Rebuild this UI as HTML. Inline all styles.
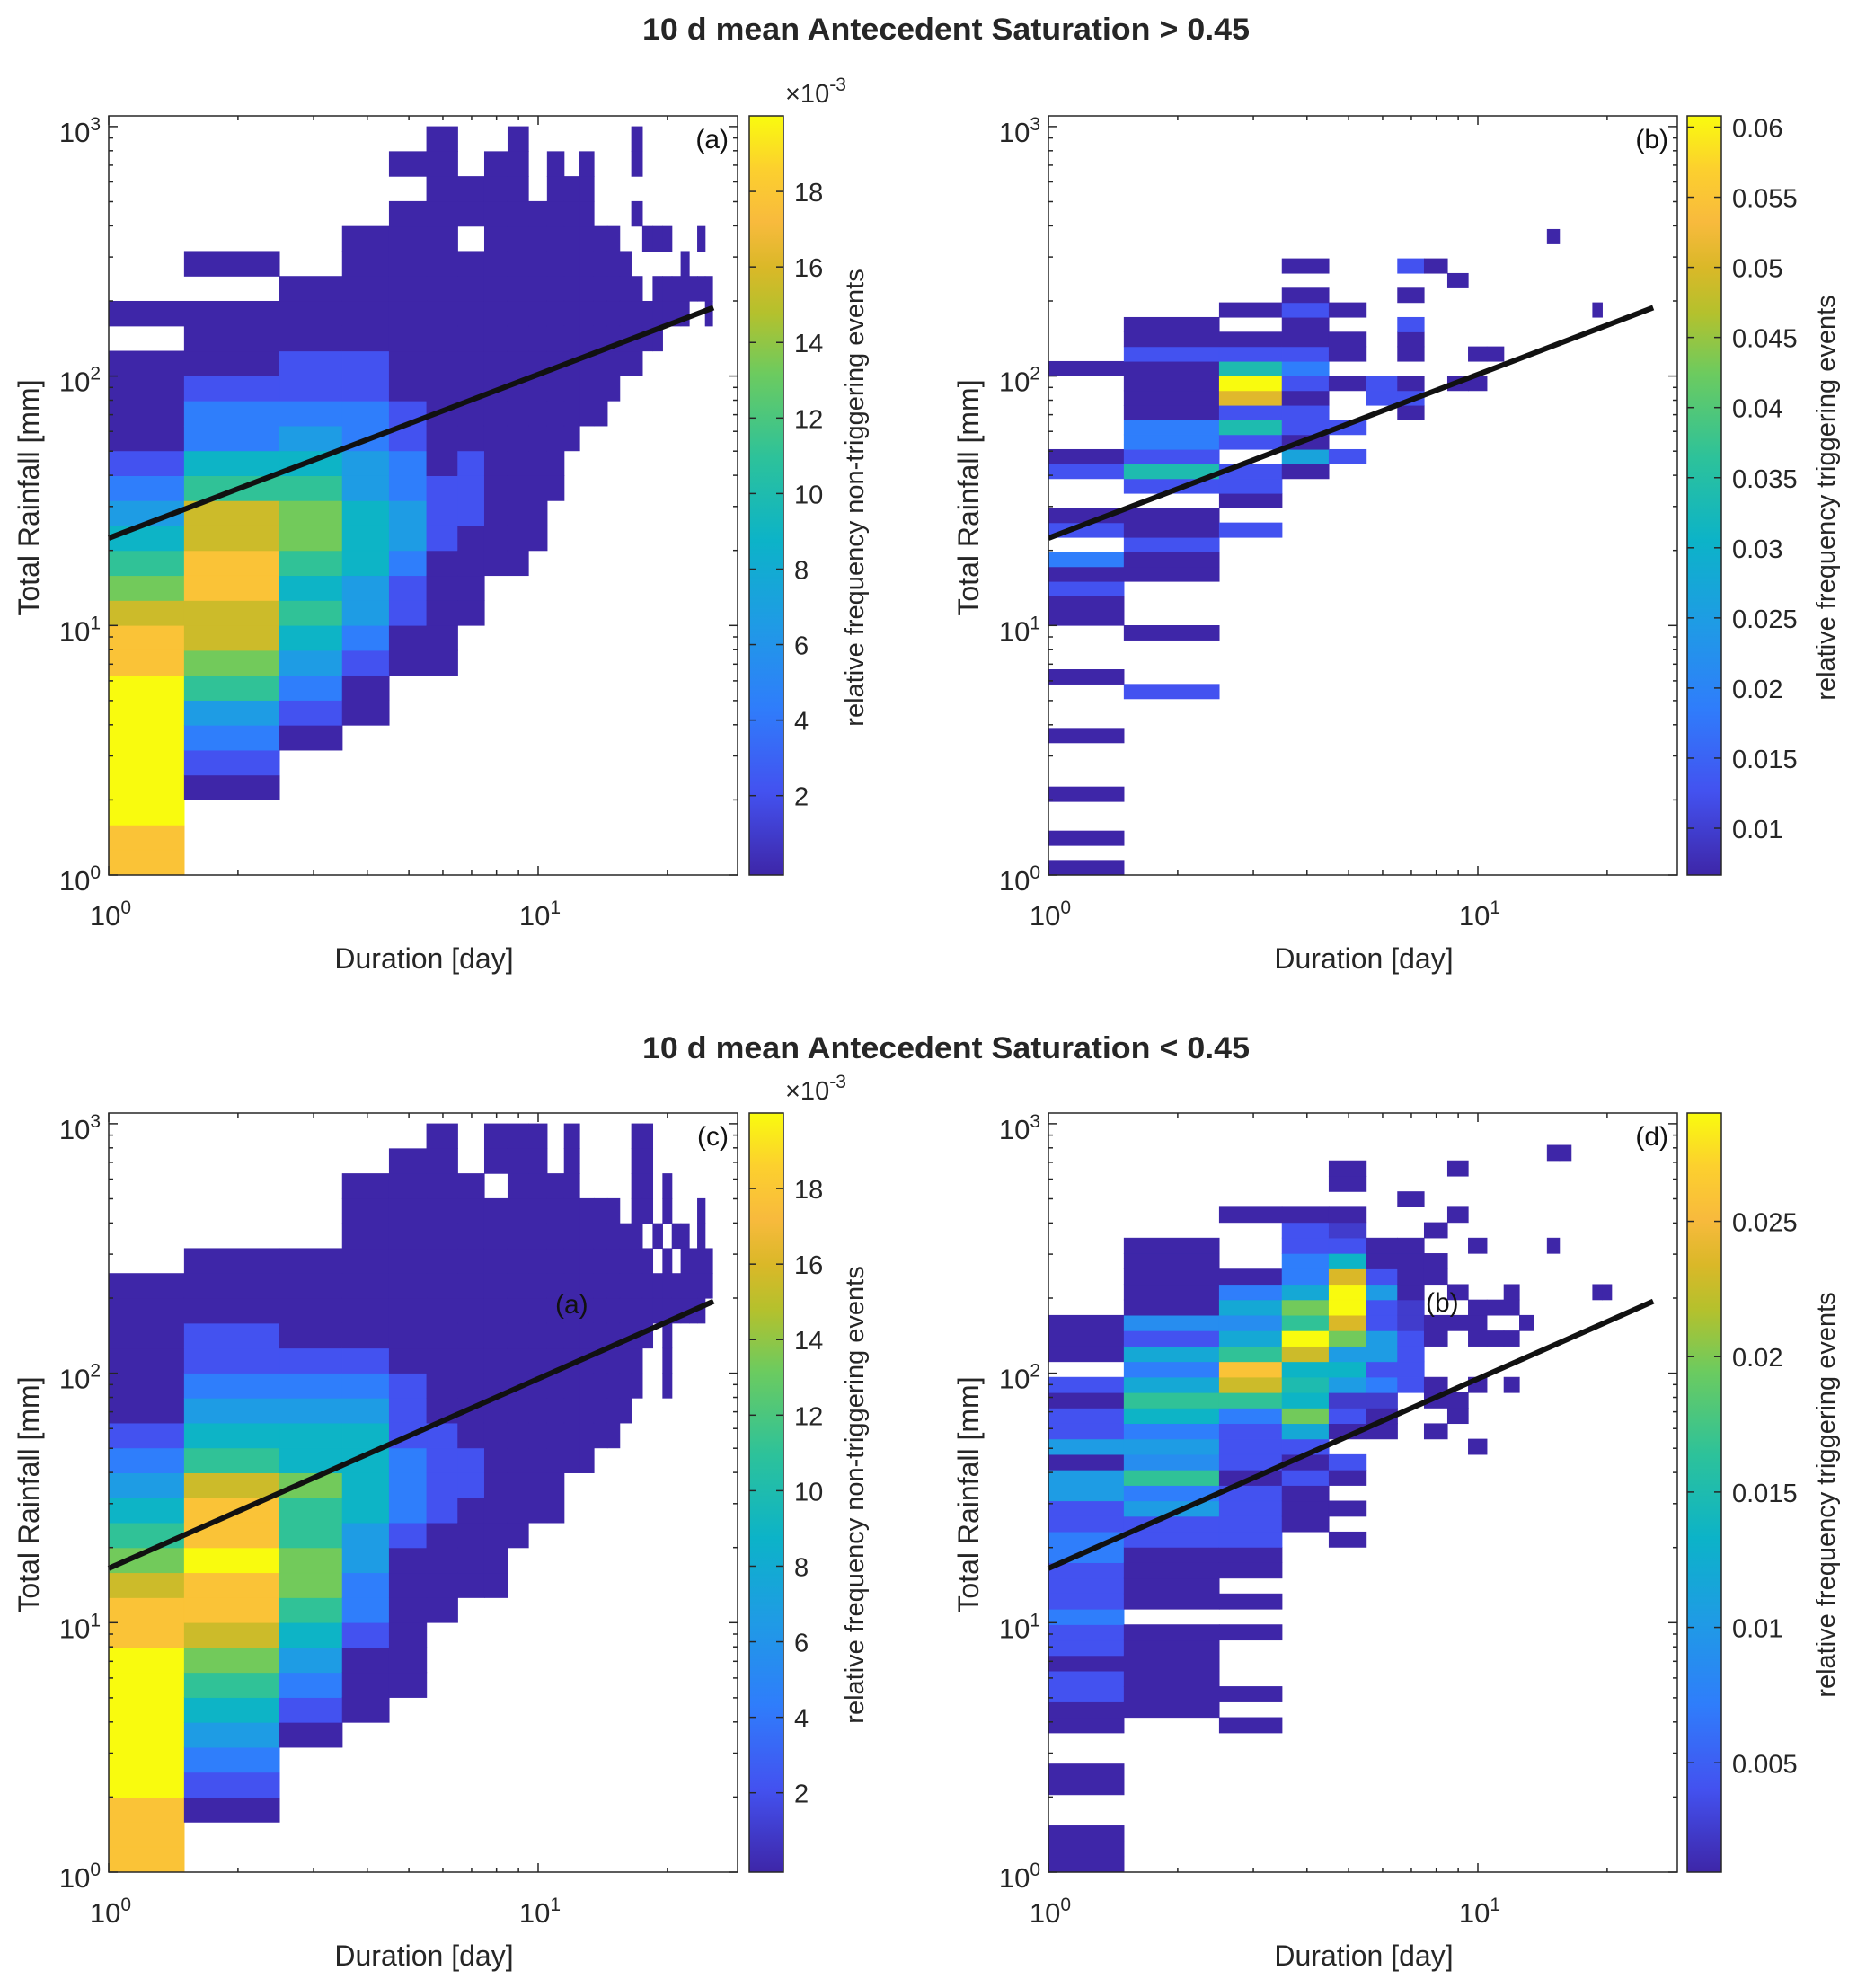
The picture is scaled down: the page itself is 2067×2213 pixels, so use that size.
<!DOCTYPE html>
<html><head><meta charset="utf-8">
<style>
html,body{margin:0;padding:0;background:#fff;}
svg{display:block;font-family:"Liberation Sans",Arial,sans-serif;}
</style></head>
<body>
<svg id="fig" width="2067" height="2213" viewBox="0 0 2067 2213" xmlns="http://www.w3.org/2000/svg">
<defs>
<linearGradient id="parula" x1="0" y1="1" x2="0" y2="0">
<stop offset="0" stop-color="#3e26a8"/><stop offset="0.11" stop-color="#4352f0"/><stop offset="0.22" stop-color="#2f7dfb"/><stop offset="0.33" stop-color="#1f9be5"/><stop offset="0.44" stop-color="#0cb3c8"/><stop offset="0.55" stop-color="#2dc29a"/><stop offset="0.66" stop-color="#6ccb5f"/><stop offset="0.74" stop-color="#b4c12d"/><stop offset="0.8" stop-color="#dab828"/><stop offset="0.86" stop-color="#f8ba3d"/><stop offset="0.93" stop-color="#fcd02e"/><stop offset="1" stop-color="#f9fb0e"/>
</linearGradient>
</defs>
<text x="1053" y="44" text-anchor="middle" font-size="34" font-weight="bold" fill="#262626" textLength="676" lengthAdjust="spacingAndGlyphs">10 d mean Antecedent Saturation &gt; 0.45</text>
<text x="1053" y="1178" text-anchor="middle" font-size="34" font-weight="bold" fill="#262626" textLength="676" lengthAdjust="spacingAndGlyphs">10 d mean Antecedent Saturation &lt; 0.45</text>
<g id="plots"></g>
</svg>
<script>
// ---- data ----
const aCols = [
"99AAAAAA9987654321111.1.......",
"...12346788998865332111.1.....",
".....1234565677654322111......",
"......11234455544332211111....",
"........1122344332211111111.1.",
"........1111122211111111111111",
"..........111122211111111.11..",
"............11111111111111111.",
"............111111111111111111",
".............11111111111111...",
"...............11111111111111.",
".................11111111111..",
"..................11111111111.",
"..................11111111....",
"...................1111111....",
"....................11111.....",
"....................1111..1.11",
".....................11..1....",
".....................111.1....",
"......................11.1....",
"......................11......",
"......................111.....",
".......................1......",
".......................1.1....",
"......................11......"
];
const cCols = [
"999AAAAAA998765432111111......",
"..1234567899A998654322111.....",
".....12345677667554321111.....",
"......1112334455554321111111..",
".......1111112333222111111111.",
"..........11112222111111111111",
"...........11112211111111111..",
"...........1111111111111111.11",
".............11111111111111111",
"..............1111111111111111",
"..............11111111111111..",
"................11111111111111",
"................11111111111...",
".................1111111111...",
".................1111111111...",
"..................11111111....",
"...................11111111111",
".....................1111.1111",
"......................11.1....",
"...................111111.11..",
"......................11.1....",
"......................1111....",
"......................111.....",
"......................11111...",
".......................11....."
];
const bCells = [
[1,0,1],[1,2,1],[1,5,1],[1,9,1],[1,13,1],[1,17,1],[1,18,1],[1,19,2],[1,20,1],[1,21,3],[1,23,2],[1,24,1],[1,27,2],[1,28,1],[1,34,1],
[2,12,2],[2,16,1],[2,20,1],[2,21,1],[2,22,2],[2,23,1],[2,24,1],[2,26,2],[2,27,5.5],[2,28,2],[2,29,3],[2,30,3],[2,31,1],[2,32,1],[2,33,1],[2,34,1],[2,35,2],[2,36,1],[2,37,1],
[3,23,2],[3,25,1],[3,26,2],[3,27,2],[3,29,2],[3,30,5.5],[3,31,2],[3,32,8.3],[3,33,10],[3,34,5.5],[3,35,2],[3,36,1],[3,38,1],
[4,27,1],[4,28,4.3],[4,29,1],[4,30,2],[4,31,2],[4,32,1],[4,33,2],[4,34,3],[4,35,2],[4,36,1],[4,37,1],[4,38,2],[4,39,1],[4,41,1],
[5,28,2],[5,30,2],[5,33,1],[5,35,1],[5,36,1],[5,38,1],
[6,32,2],[6,33,2],
[7,31,1],[7,32,2],[7,33,1],[7,35,1],[7,36,1],[7,37,2],[7,39,1],[7,41,2],
[8,41,1],[9,33,1],[9,40,1],[10,33,1],[10,35,1],[11,35,1],[15,43,1],[19,38,1]
];
const dCells = [
[1,0,1],[1,1,1],[1,2,1],[1,5,1],[1,6,1],[1,9,1],[1,10,1],[1,11,2],[1,12,2],[1,13,1],[1,14,2],[1,15,2],[1,16,3],[1,17,2],[1,18,2],[1,19,2],[1,20,3],[1,21,3],[1,22,2],[1,23,2],[1,24,4],[1,25,4],[1,26,1],[1,27,4],[1,28,2],[1,29,2],[1,30,1],[1,31,2],[1,33,1],[1,34,1],[1,35,1],
[2,10,1],[2,11,1],[2,12,1],[2,13,1],[2,14,1],[2,15,1],[2,17,1],[2,18,1],[2,19,1],[2,20,1],[2,21,2],[2,22,2],[2,23,4],[2,24,3],[2,25,6],[2,26,3.5],[2,27,4],[2,28,3],[2,29,5],[2,30,6],[2,31,4.5],[2,32,3],[2,33,4.5],[2,34,2],[2,35,3.5],[2,36,1],[2,37,1],[2,38,1],[2,39,1],[2,40,1],
[3,9,1],[3,11,1],[3,15,1],[3,17,1],[3,19,1],[3,20,1],[3,21,2],[3,22,2],[3,23,2],[3,24,2],[3,25,1],[3,26,2],[3,27,2],[3,28,2],[3,29,3],[3,30,6],[3,31,8],[3,32,9],[3,33,6],[3,34,4.5],[3,35,3.5],[3,36,4.5],[3,37,3],[3,38,1],[3,42,1],
[4,22,1],[4,23,1],[4,24,1],[4,25,2],[4,26,1],[4,27,2],[4,28,4.5],[4,29,7],[4,30,5],[4,31,5.5],[4,32,5],[4,33,8],[4,34,10],[4,35,6],[4,36,7],[4,37,4.5],[4,38,3],[4,39,3],[4,40,2],[4,41,2],[4,42,1],
[5,21,1],[5,23,1],[5,25,1],[5,26,2],[5,28,1],[5,29,2],[5,30,1.5],[5,31,4],[5,32,5],[5,33,4],[5,34,7],[5,35,8.2],[5,36,10],[5,37,10],[5,38,8.2],[5,39,5],[5,40,2],[5,41,1.5],[5,42,1],[5,44,1],[5,45,1],
[6,28,1],[6,29,1],[6,30,1.5],[6,31,3],[6,32,2],[6,33,4],[6,34,4],[6,35,2],[6,36,2],[6,37,4],[6,38,2],[6,39,1],[6,40,1],
[7,31,2],[7,32,2],[7,33,2],[7,34,2],[7,35,1.5],[7,36,1.5],[7,37,1],[7,38,1],[7,39,1],[7,40,1],[7,43,1],
[8,28,1],[8,30,1],[8,31,1],[8,34,1],[8,35,1],[8,38,1],[8,39,1],[8,41,1],
[9,29,1],[9,30,1],[9,35,1],[9,37,1],[9,42,1],[9,45,1],
[10,27,1],[10,31,1],[10,34,1],[10,35,1],[10,36,1],[10,40,1],
[11,34,1],[11,36,1],
[12,31,1],[12,34,1],[12,36,1],[12,37,1],
[13,35,1],[15,40,1],[15,46,1],[16,46,1],[19,37,1],[20,37,1]
];
const lineDur = [1, 25.6];
const lineRainAB = [22.4, 188];
const lineRainCD = [16.5, 194];
const cbarTicksA = [2,4,6,8,10,12,14,16,18];
const cbarTicksB = [0.01,0.015,0.02,0.025,0.03,0.035,0.04,0.045,0.05,0.055,0.06];
const cbarTicksD = [0.005,0.01,0.015,0.02,0.025];
const cbarRangeA = [-0.1, 20.0];
const cbarRangeB = [0.00667, 0.0608];
const cbarRangeD = [0.00096, 0.029];
const yTickExps = [0,1,2,3];
const xTickExps = [0,1];

// ---- rendering ----
const NS='http://www.w3.org/2000/svg';
const root=document.getElementById('plots');
function mk(tag,attrs,parent){const e=document.createElementNS(NS,tag);for(const k in attrs)e.setAttribute(k,attrs[k]);(parent||root).appendChild(e);return e;}
const cmapStops=[[0,[62,38,168]],[0.11,[67,82,240]],[0.22,[47,125,251]],[0.33,[31,155,229]],[0.44,[12,179,200]],[0.55,[45,194,154]],[0.66,[108,203,95]],[0.74,[180,193,45]],[0.8,[218,184,40]],[0.86,[248,186,61]],[0.93,[252,208,46]],[1,[249,251,14]]];
function cmap(f){f=Math.max(0,Math.min(1,f));for(let i=1;i<cmapStops.length;i++){const[a,ca]=cmapStops[i-1],[b,cb]=cmapStops[i];if(f<=b){const t=(f-a)/(b-a);return 'rgb('+ca.map((v,j)=>Math.round(v+(cb[j]-v)*t)).join(',')+')';}}return 'rgb(249,251,14)';}
function levelColor(L){return cmap((L-1)/9);}
const W=700,H=845,DEC_X=478,DEC_Y=277.7;
function fmt(v){return String(parseFloat(v.toPrecision(4)));}

function panel(P){
  const g=mk('g',{});
  
  
  const yb=P.y+H;
  const sx=d=>P.x+DEC_X*Math.log10(d);
  const sy=v=>yb-DEC_Y*Math.log10(v);
  const xmax=Math.pow(10,W/DEC_X);
  const ymax=Math.pow(10,H/DEC_Y);
  const colEdge=k=>k===1?[1,1.5]:[k-0.5,Math.min(k+0.5,xmax)];
  function cell(col,row,L){
    const[e0,e1]=colEdge(col);
    const v0=Math.pow(10,row/P.rpd),v1=Math.min(Math.pow(10,(row+1)/P.rpd),ymax);
    const x0=sx(e0),x1=sx(e1),y0=sy(v1),y1=sy(v0);
    const c=levelColor(L);
    const r=mk('rect',{x:x0.toFixed(2),y:y0.toFixed(2),width:(x1-x0).toFixed(2),height:(y1-y0).toFixed(2),fill:c,stroke:c,'stroke-width':0.6},g);
    
    
  }
  if(P.cols){P.cols.forEach((s,i)=>{for(let r=0;r<s.length;r++){const ch=s[r];if(ch==='.')continue;cell(i+1,r,ch==='A'?10:parseInt(ch));}});}
  else{P.cells.forEach(c=>cell(c[0],c[1],c[2]));}
  const ln=mk('line',{x1:sx(lineDur[0]),y1:sy(P.line[0]),x2:sx(lineDur[1]),y2:sy(P.line[1]),stroke:'#111','stroke-width':6,'stroke-linecap':'butt'},g);
  
  
  const bx=mk('rect',{x:P.x,y:P.y,width:W,height:H,fill:'none',stroke:'#262626','stroke-width':1.5},g);
  
  
  for(let e=0;e<=3;e++){for(let m=1;m<=9;m++){const v=m*Math.pow(10,e);if(v>ymax)break;const y=sy(v);const len=m===1?10:5;
    mk('line',{x1:P.x,y1:y,x2:P.x+len,y2:y,stroke:'#262626','stroke-width':1.5},g);
    mk('line',{x1:P.x+W,y1:y,x2:P.x+W-len,y2:y,stroke:'#262626','stroke-width':1.5},g);}}
  yTickExps.forEach(e=>{const t=mk('text',{x:P.x-9,y:sy(Math.pow(10,e))+17,'text-anchor':'end','font-size':31,fill:'#262626'},g);
    
    
    t.textContent='10';const s=mk('tspan',{dy:-13,'font-size':21},t);s.textContent=String(e);});
  for(let e=0;e<=1;e++){for(let m=1;m<=9;m++){const v=m*Math.pow(10,e);if(v>xmax)break;const x=sx(v);const len=m===1?10:5;
    mk('line',{x1:x,y1:yb,x2:x,y2:yb-len,stroke:'#262626','stroke-width':1.5},g);
    mk('line',{x1:x,y1:P.y,x2:x,y2:P.y+len,stroke:'#262626','stroke-width':1.5},g);}}
  xTickExps.forEach(e=>{const t=mk('text',{x:sx(Math.pow(10,e))+2,y:yb+56,'text-anchor':'middle','font-size':31,fill:'#262626'},g);
    
    
    t.textContent='10';const s=mk('tspan',{dy:-13,'font-size':21},t);s.textContent=String(e);});
  const xt=mk('text',{x:P.x+351,y:yb+104,'text-anchor':'middle','font-size':32,fill:'#262626'},g);
  
  
  xt.textContent='Duration [day]';
  const cyl=P.y+425;
  const yt=mk('text',{x:0,y:0,transform:'translate('+(P.x-78)+','+cyl+') rotate(-90)','text-anchor':'middle','font-size':32,fill:'#262626'},g);
  
  
  yt.textContent='Total Rainfall [mm]';
  const pl=mk('text',{x:P.x+690,y:P.y+36,'text-anchor':'end','font-size':30,fill:'#111'},g);
  
  
  pl.textContent='('+P.id+')';
  if(P.extra){const ex=mk('text',{x:P.extra[0],y:P.extra[1],'font-size':30,fill:'#111'},g);
    
    
    ex.textContent=P.extra[2];}
  const cb=mk('g',{},g);
  
  
  const cr=mk('rect',{x:P.cbx,y:P.y,width:38,height:H,fill:'url(#parula)',stroke:'#262626','stroke-width':1.5},cb);
  
  
  const[lo,hi]=P.cbRange;
  P.cbTicks.forEach(v=>{const y=yb-(v-lo)/(hi-lo)*H;
    mk('line',{x1:P.cbx+38,y1:y,x2:P.cbx+30,y2:y,stroke:'#262626','stroke-width':1.5},cb);
    mk('line',{x1:P.cbx,y1:y,x2:P.cbx+8,y2:y,stroke:'#262626','stroke-width':1.5},cb);
    const t=mk('text',{x:P.cbx+50,y:y+11,'font-size':29,fill:'#262626'},cb);
    
    
    t.textContent=fmt(v);});
  if(P.exp){const t=mk('text',{x:P.cbx+40,y:P.y-15,'font-size':29,fill:'#262626'},cb);
    
    
    t.textContent='\u00d710';const s=mk('tspan',{dy:-13,'font-size':21},t);s.textContent='-3';}
  const cl=mk('text',{x:0,y:0,transform:'translate('+P.cbLabelX+','+cyl+') rotate(-90)','text-anchor':'middle','font-size':29,fill:'#262626'},cb);
  
  
  cl.textContent=P.cbLabel;
}
panel({id:'a',x:121,y:129,rpd:10,cols:aCols,line:lineRainAB,cbx:834,cbRange:cbarRangeA,cbTicks:cbarTicksA,exp:true,cbLabelX:961,cbLabel:'relative frequency non-triggering events'});
panel({id:'b',x:1167,y:129,rpd:17,cells:bCells,line:lineRainAB,cbx:1878,cbRange:cbarRangeB,cbTicks:cbarTicksB,exp:false,cbLabelX:2042,cbLabel:'relative frequency triggering events'});
panel({id:'c',x:121,y:1239,rpd:10,cols:cCols,line:lineRainCD,cbx:834,cbRange:cbarRangeA,cbTicks:cbarTicksA,exp:true,cbLabelX:961,cbLabel:'relative frequency non-triggering events',extra:[618,1462,'(a)']});
panel({id:'d',x:1167,y:1239,rpd:16.13,cells:dCells,line:lineRainCD,cbx:1878,cbRange:cbarRangeD,cbTicks:cbarTicksD,exp:false,cbLabelX:2042,cbLabel:'relative frequency triggering events',extra:[1587,1460,'(b)']});
</script>
</body></html>
